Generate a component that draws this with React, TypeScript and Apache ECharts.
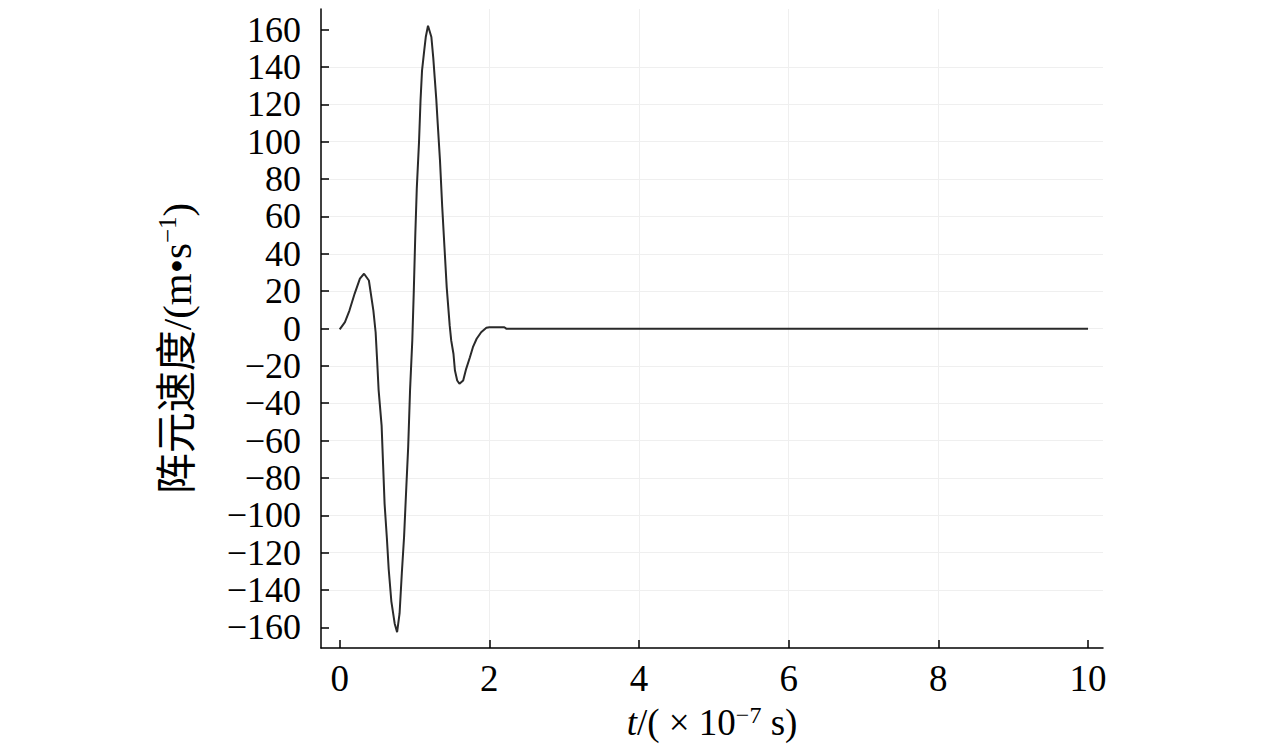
import React, { useEffect, useRef } from "react";
import * as echarts from "echarts";

const timeValues = [
  0, 0.07, 0.13, 0.2, 0.27, 0.325, 0.39, 0.45, 0.48, 0.5,
  0.52, 0.56, 0.58, 0.6, 0.63, 0.655, 0.69, 0.735, 0.767, 0.8,
  0.83, 0.86, 0.89, 0.915, 0.94, 0.97, 0.99, 1.01, 1.03, 1.06,
  1.08, 1.1, 1.13, 1.15, 1.18, 1.225, 1.25, 1.27, 1.29, 1.31,
  1.34, 1.37, 1.4, 1.43, 1.47, 1.49, 1.52, 1.54, 1.57, 1.6,
  1.65, 1.69, 1.74, 1.78, 1.83, 1.89, 1.96, 2.0, 2.2, 2.23,
  10,
];
const velocityValues = [
  -0.5, 3.4, 9.6, 18.7, 26.7, 29.3, 25.7, 9.6, -2, -17,
  -33, -52, -73, -94, -112, -129, -146, -158, -162.5, -152.5,
  -131, -111.6, -85, -63.5, -33, -6.4, 20, 50, 75, 100,
  122, 138, 149, 156, 162, 156, 145, 134, 123, 109.5,
  90, 65, 43.5, 22, 1.5, -6.4, -13.5, -22.5, -27.8, -29.6,
  -27.8, -21.6, -15.4, -10, -5.5, -2, 0.4, 0.7, 0.7, -0.2,
  -0.2,
];
const xTickValues = [0, 2, 4, 6, 8, 10];
const yTickValues = [
  -160, -140, -120, -100, -80, -60, -40, -20, 0, 20, 40, 60, 80, 100, 120, 140, 160,
];

const SERIF = "'Liberation Serif', 'Times New Roman', serif";
const CJK = "'Liberation Serif', 'Noto Sans CJK SC', serif";

export default function App() {
  const ref = useRef<HTMLDivElement>(null);
  useEffect(() => {
    const chart = echarts.init(ref.current!, null, { renderer: "svg" });
    const data = timeValues.map((t, i) => [t, velocityValues[i]]);
    const fmt = (v: number) => String(v).replace("-", "\u2212");
    chart.setOption({
      animation: false,
      backgroundColor: "#ffffff",
      grid: { left: 321, right: 177, top: 9, bottom: 97, containLabel: false, outerBoundsMode: "none" },
      xAxis: {
        type: "value",
        min: -0.25,
        max: 10.2,
        splitNumber: 5,
        name: "{i|t}{n|/( \u00d7 10}{s|\u22127}{n| s)}",
        nameLocation: "middle",
        nameGap: 55,
        nameTextStyle: {
          rich: {
            i: { fontFamily: SERIF, fontSize: 37, fontStyle: "italic", color: "#000", lineHeight: 38 },
            n: { fontFamily: SERIF, fontSize: 37, color: "#000", lineHeight: 38 },
            s: { fontFamily: SERIF, fontSize: 24, color: "#000", lineHeight: 18, verticalAlign: "top" },
          },
        },
        axisLine: { onZero: false, lineStyle: { color: "#000", width: 1.5 } },
        axisTick: {
          inside: true,
          length: 8,
          customValues: xTickValues,
          lineStyle: { color: "#000", width: 1.5 },
        },
        axisLabel: {
          customValues: xTickValues,
          showMinLabel: true,
          showMaxLabel: true,
          fontFamily: SERIF,
          fontSize: 37,
          color: "#000",
          margin: 12,
          formatter: fmt,
        },
        splitLine: {
          show: true,
          showMinLine: false,
          showMaxLine: false,
          lineStyle: { color: "#efefef", width: 1 },
        },
      },
      yAxis: {
        type: "value",
        min: -171,
        max: 171,
        splitNumber: 17,
        name: "{n|\u9635\u5143\u901f\u5ea6/(m\u2022s}{s|\u22121}{n|)}",
        nameLocation: "middle",
        nameGap: 122,
        nameRotate: 90,
        nameTextStyle: {
          padding: [0, 40, 0, 0],
          rich: {
            n: { fontFamily: CJK, fontSize: 41, color: "#000", lineHeight: 44 },
            s: { fontFamily: SERIF, fontSize: 25, color: "#000", lineHeight: 26, verticalAlign: "top" },
          },
        },
        axisLine: { onZero: false, lineStyle: { color: "#000", width: 1.5 } },
        axisTick: {
          inside: true,
          length: 8,
          customValues: yTickValues,
          lineStyle: { color: "#000", width: 1.5 },
        },
        axisLabel: {
          customValues: yTickValues,
          showMinLabel: true,
          showMaxLabel: true,
          hideOverlap: false,
          fontFamily: SERIF,
          fontSize: 36,
          lineHeight: 36,
          color: "#000",
          margin: 20,
          formatter: fmt,
        },
        splitLine: {
          show: true,
          showMinLine: false,
          showMaxLine: false,
          lineStyle: { color: "#efefef", width: 1 },
        },
      },
      series: [
        {
          type: "line",
          data,
          showSymbol: false,
          symbol: "none",
          lineStyle: { color: "#2a2a2a", width: 2 },
        },
      ],
    });
    return () => chart.dispose();
  }, []);
  return (
    <div
      ref={ref}
      style={{ position: "absolute", left: 0, top: 0, width: 1280, height: 745 }}
    />
  );
}
